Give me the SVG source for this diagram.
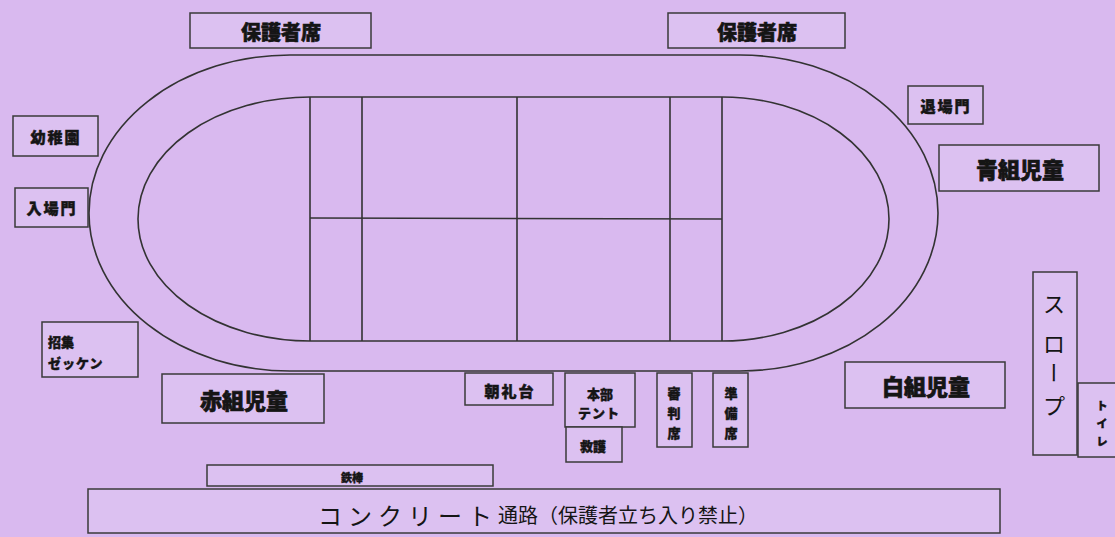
<svg xmlns="http://www.w3.org/2000/svg" width="1115" height="537" viewBox="0 0 1115 537">
<style>
.bg{fill:#d9b9ef}
.box{fill:#dcc1f1;stroke:#3a3a3a;stroke-width:1.5}
.ln{fill:none;stroke:#333;stroke-width:1.6}
text{font-family:"Noto Sans CJK JP","Noto Sans CJK SC",sans-serif;fill:#151515;text-anchor:middle;dominant-baseline:central}
.b{font-weight:900;stroke:#151515;stroke-width:0.4}
.big{font-size:22px;font-weight:900;stroke:#151515;stroke-width:0.7}
.mid{font-size:20px;font-weight:900;stroke:#151515;stroke-width:0.6}
.sm{font-size:15px;font-weight:900;letter-spacing:2px;stroke:#151515;stroke-width:0.5}
.xs{font-size:13px;font-weight:900;stroke:#151515;stroke-width:0.4}
</style>
<rect class="bg" x="0" y="0" width="1115" height="537"/>

<g id="track">
<path class="ln" d="M290 55 L740 55 A198 158 0 0 1 740 371 L290 371 A201 158 0 0 1 290 55 Z"/>
<path class="ln" d="M310 97 L722 97 A167 122 0 0 1 722 341 L310 341 A172 122 0 0 1 310 97 Z"/>
<line class="ln" x1="310" y1="97" x2="310" y2="341"/>
<line class="ln" x1="362" y1="97" x2="362" y2="341"/>
<line class="ln" x1="517" y1="97" x2="517" y2="341"/>
<line class="ln" x1="670" y1="97" x2="670" y2="341"/>
<line class="ln" x1="722" y1="97" x2="722" y2="341"/>
<line class="ln" x1="310" y1="218" x2="722" y2="219"/>
</g>

<g id="hogosha1"><rect class="box" x="190" y="13" width="181" height="35"/><text class="mid" x="281" y="31">保護者席</text></g>
<g id="hogosha2"><rect class="box" x="668" y="13" width="177" height="35"/><text class="mid" x="757" y="31">保護者席</text></g>
<g id="youchien"><rect class="box" x="13" y="116" width="85" height="40"/><text class="sm" x="56" y="136">幼稚園</text></g>
<g id="nyujomon"><rect class="box" x="15" y="188" width="73" height="39"/><text class="sm" x="52" y="207">入場門</text></g>
<g id="shoshu"><rect class="box" x="42" y="322" width="96" height="55"/><text class="xs" x="48" y="341" style="text-anchor:start">招集</text><text class="xs" x="48" y="362" style="text-anchor:start;letter-spacing:1px">ゼッケン</text></g>
<g id="akagumi"><rect class="box" x="162" y="374" width="162" height="49"/><text class="big" x="244" y="399">赤組児童</text></g>
<g id="taijomon"><rect class="box" x="908" y="86" width="75" height="38"/><text class="sm" x="946" y="105">退場門</text></g>
<g id="aogumi"><rect class="box" x="939" y="145" width="160" height="46"/><text class="big" x="1020" y="168">青組児童</text></g>
<g id="shirogumi"><rect class="box" x="845" y="362" width="160" height="46"/><text class="big" x="926" y="385">白組児童</text></g>
<g id="chorei"><rect class="box" x="465" y="373" width="88" height="32"/><text class="sm" x="510" y="390">朝礼台</text></g>
<g id="honbu"><rect class="box" x="565" y="373" width="70" height="54"/><text class="xs" x="600" y="393">本部</text><text class="xs" x="599" y="412" style="letter-spacing:1px">テント</text></g>
<g id="kyugo"><rect class="box" x="566" y="427" width="56" height="35"/><text class="xs" x="593" y="445">救護</text></g>
<g id="shinpan"><rect class="box" x="657" y="373" width="35" height="74"/><text class="xs" x="674" y="392">審</text><text class="xs" x="674" y="412">判</text><text class="xs" x="674" y="432">席</text></g>
<g id="junbi"><rect class="box" x="713" y="373" width="35" height="74"/><text class="xs" x="731" y="392">準</text><text class="xs" x="731" y="412">備</text><text class="xs" x="731" y="432">席</text></g>
<g id="slope"><rect class="box" x="1033" y="272" width="44" height="183"/>
<text x="1054" y="302" style="font-size:22px">ス</text>
<text x="1054" y="342" style="font-size:22px">ロ</text>
<text x="1054" y="373" style="font-size:22px;writing-mode:vertical-rl">ー</text>
<text x="1054" y="404" style="font-size:22px">プ</text>
</g>
<g id="toilet"><rect class="box" x="1078" y="383" width="45" height="74"/>
<text class="b" x="1102" y="405" style="font-size:11px">ト</text>
<text class="b" x="1102" y="423" style="font-size:11px">イ</text>
<text class="b" x="1102" y="441" style="font-size:11px">レ</text>
</g>
<g id="tetsubo"><rect class="box" x="207" y="465" width="286" height="21"/><text class="b" x="352" y="477" style="font-size:11px">鉄棒</text></g>
<g id="concrete"><rect class="box" x="88" y="489" width="912" height="44"/>
<text x="318" y="514" style="text-anchor:start"><tspan style="font-size:24px;letter-spacing:6px">コンクリート</tspan><tspan style="font-size:20px">通路（保護者立ち入り禁止）</tspan></text>
</g>
</svg>
